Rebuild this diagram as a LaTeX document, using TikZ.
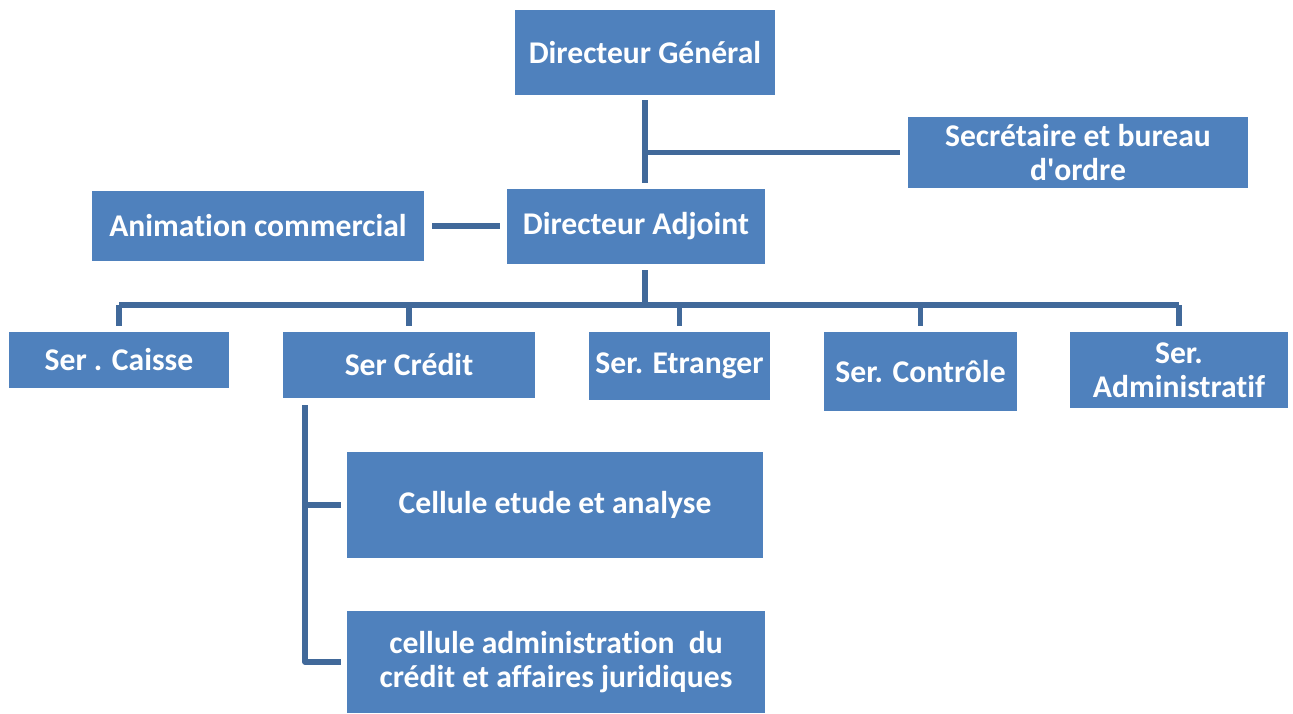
\documentclass[tikz,border=0pt]{standalone}
\usepackage{fontspec}
\setmainfont{Carlito}[Ligatures={NoCommon,NoContextual}]
\definecolor{boxblue}{HTML}{4F81BD}
\definecolor{linkblue}{HTML}{41699A}
\begin{document}
\begin{tikzpicture}[x=0.02cm, y=-0.02cm, font=\bfseries\fontsize{18}{19.5}\selectfont,
    unit/.style = {rectangle, fill=boxblue, text=white, align=center, inner sep=0pt},
    link/.style = {draw=linkblue, line width=0.11cm, line join=round}]
    \useasboundingbox (0,0) rectangle (1293,713);
    \node [unit, minimum width=5.2cm, minimum height=1.7cm] (dg) at (645,52.5) {Directeur Général};
    \node [unit, minimum width=6.8cm, minimum height=1.42cm] (sec) at (1078,152.5) {Secrétaire et bureau\\d\textquotesingle ordre};
    \node [unit, minimum width=6.64cm, minimum height=1.4cm] (anim) at (258,226) {Animation commercial};
    \node [unit, minimum width=5.16cm, minimum height=1.5cm] (da) at (636,226.5) {Directeur Adjoint};
    \node [unit, minimum width=4.4cm, minimum height=1.12cm] (caisse) at (119,360) {Ser . Caisse};
    \node [unit, minimum width=5.04cm, minimum height=1.32cm] (credit) at (409,365) {Ser Crédit};
    \node [unit, minimum width=3.62cm, minimum height=1.36cm] (etranger) at (679.5,366) {Ser. Etranger};
    \node [unit, minimum width=3.86cm, minimum height=1.58cm] (controle) at (920.5,371.5) {Ser. Contrôle};
    \node [unit, minimum width=4.36cm, minimum height=1.52cm] (admin) at (1179,370) {Ser.\\Administratif};
    \node [unit, minimum width=8.32cm, minimum height=2.12cm] (etude) at (555,505) {Cellule etude et analyse};
    \node [unit, minimum width=8.36cm, minimum height=2.04cm] (juridique) at (556,662) {cellule administration~ du\\crédit et affaires juridiques};
    \coordinate (axis) at (645,305);
    \coordinate (spine) at (305,405);
    \draw [link, shorten <=0.1cm, shorten >=0.12cm] (dg.south -| axis) -- (da.north -| axis);
    \draw [link, shorten >=0.16cm] (axis |- sec.west) -- (sec.west);
    \draw [link, shorten <=0.16cm, shorten >=0.14cm] (anim.east) -- (anim.east -| da.west);
    \draw [link, shorten <=0.12cm] (da.south -| axis) -- (axis);
    \draw [link] (caisse.north |- axis) -- (admin.north |- axis);
    \foreach \s in {caisse, credit, etranger, controle, admin}
        \draw [link, shorten >=0.12cm] (\s.north |- axis) -- (\s.north);
    \draw [link, shorten >=0.12cm] (spine) |- (juridique.west);
    \draw [link, shorten >=0.12cm] (spine |- etude.west) -- (etude.west);
\end{tikzpicture}
\end{document}
